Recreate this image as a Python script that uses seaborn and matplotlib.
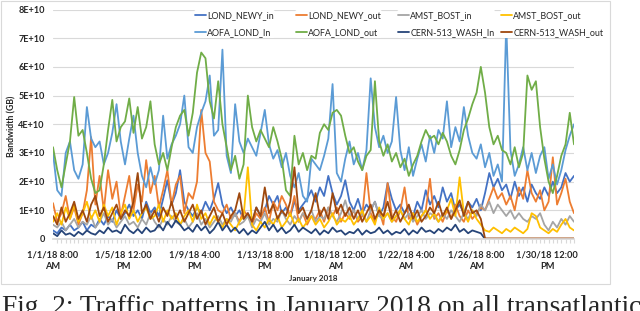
import numpy as np
import pandas as pd
import matplotlib
matplotlib.use("Agg")
import matplotlib.pyplot as plt
import seaborn as sns
from matplotlib.patches import Rectangle

# series values in units of 1E+10, one sample every 6 hours from 1/1/18 8:00 AM
step_hours = 6

lond_newy_in = [
    0.3, 0.2, 0.4, 0.3, 0.5, 0.3, 0.4, 0.6, 0.3, 0.5,
    0.4, 0.7, 0.5, 0.8, 0.6, 1.0, 0.7, 0.9, 1.2, 0.8,
    1.0, 0.7, 1.3, 0.9, 1.1, 0.8, 1.4, 2.05, 1.2, 1.6,
    2.4, 1.3, 1.0, 0.8, 1.1, 0.9, 1.3, 1.0, 1.4, 1.95,
    1.2, 0.9, 1.1, 0.8, 1.0, 0.7, 0.9, 0.6, 1.1, 0.8,
    1.0, 1.5, 1.2, 1.5, 0.9, 1.1, 0.8, 1.3, 1.0, 1.2,
    1.4, 1.7, 1.3, 1.8, 1.5, 2.2, 1.6, 1.2, 1.5, 2.05,
    1.3, 1.0, 1.4, 0.9, 1.2, 1.0, 1.3, 0.8, 1.1, 1.95,
    1.4, 1.0, 1.2, 0.9, 1.1, 0.8, 1.3, 1.0, 1.7, 1.2,
    1.5, 1.1, 1.8, 1.3, 1.6, 1.0, 1.2, 0.9, 1.3, 1.1,
    1.4, 1.0, 1.6, 2.3, 1.8, 2.1, 1.7, 1.9, 1.4, 2.0,
    1.5, 1.8, 1.3, 1.9, 1.6, 1.4, 1.8, 1.5, 2.0, 1.6,
    1.8, 2.3, 2.0, 2.2,
]
lond_newy_out = [
    1.25, 0.6, 0.9, 1.5, 0.7, 1.1, 0.5, 0.9, 1.7, 3.55,
    1.2, 2.2, 1.0, 2.4, 1.4, 2.0, 0.8, 1.5, 2.2, 1.0,
    1.9, 1.3, 2.75, 1.6, 2.2, 1.1, 1.7, 2.4, 1.2, 1.9,
    2.2, 0.9, 1.6, 1.4, 2.0, 4.5, 3.0, 2.7, 1.3, 1.0,
    0.9, 1.2, 0.7, 0.9, 0.6, 1.0, 0.8, 0.5, 0.9, 0.7,
    1.1, 0.6, 1.3, 1.0, 1.5, 1.2, 0.8, 1.5, 0.6, 0.9,
    0.5, 0.8, 0.7, 1.0, 0.6, 1.1, 0.8, 1.1, 0.6, 0.9,
    0.7, 1.0, 0.6, 0.8, 2.3, 0.9, 0.6, 1.0, 0.5, 1.95,
    0.8, 0.6, 1.0, 1.8, 0.7, 0.9, 0.5, 0.8, 1.0, 2.1,
    0.7, 0.9, 0.6, 1.0, 0.7, 1.2, 0.8, 0.6, 1.0, 0.7,
    0.9, 1.1, 1.0, 1.4, 1.8, 1.4, 1.6, 1.2, 1.5, 1.0,
    1.8, 1.4, 2.4, 1.6, 1.3, 1.7, 1.0, 1.3, 2.85, 1.2,
    1.6, 2.1, 1.3, 0.9,
]
amst_bost_in = [
    0.5, 0.4, 0.6, 0.3, 0.5, 0.7, 0.4, 0.6, 0.5, 0.8,
    0.4, 0.6, 0.9, 0.5, 0.7, 0.4, 0.6, 0.8, 0.5, 0.6,
    0.4, 0.7, 0.5, 0.9, 0.6, 0.4, 0.7, 0.5, 0.8, 0.6,
    0.5, 0.7, 0.4, 0.6, 0.9, 0.5, 0.7, 0.4, 0.6, 0.8,
    0.5, 0.7, 0.6, 0.9, 0.5, 0.6, 0.8, 0.4, 0.7, 0.6,
    0.9, 0.5, 0.7, 0.6, 1.0, 0.7, 0.5, 0.8, 0.6, 0.9,
    0.7, 1.0, 0.6, 0.8, 0.7, 1.1, 0.8, 0.6, 0.9, 1.35,
    0.8, 1.0, 0.7, 0.9, 0.6, 1.0, 1.3, 0.8, 0.7, 0.9,
    0.6, 0.8, 1.0, 0.7, 0.9, 0.6, 0.8, 1.0, 0.7, 0.9,
    0.8, 0.6, 0.9, 0.7, 1.0, 0.8, 0.6, 0.9, 0.7, 1.0,
    0.8, 1.2, 1.0, 1.3, 0.9, 1.2, 1.0, 0.8, 1.0, 0.7,
    0.9, 0.7, 0.6, 0.8, 0.7, 0.9, 0.5, 0.3, 0.6, 0.4,
    0.7, 0.5, 0.8, 0.6,
]
amst_bost_out = [
    0.6, 0.9, 0.5, 1.1, 0.7, 1.2, 0.6, 0.9, 1.3, 0.7,
    1.0, 0.6, 1.2, 0.8, 1.1, 0.5, 0.9, 1.2, 0.7, 1.0,
    0.6, 0.9, 1.1, 0.7, 0.8, 1.2, 0.6, 1.0, 0.7, 0.9,
    0.5, 0.8, 1.0, 0.6, 1.2, 0.7, 0.9, 0.5, 0.8, 0.6,
    0.4, 0.7, 0.5, 0.3, 0.6, 0.8, 2.5, 0.5, 0.3, 0.6,
    0.4, 0.7, 0.5, 0.8, 0.4, 0.6, 0.9, 0.5, 0.7, 0.4,
    0.6, 0.8, 0.5, 0.7, 0.4, 0.6, 0.9, 0.5, 0.7, 0.6,
    0.8, 0.5, 0.7, 1.0, 0.6, 0.8, 0.5, 1.1, 0.7, 0.9,
    0.6, 0.8, 1.0, 0.7, 0.5, 0.9, 0.6, 0.8, 1.0, 0.7,
    0.9, 0.6, 0.8, 1.0, 1.4, 0.8, 2.15, 0.9, 0.6, 1.0,
    0.7, 0.5, 0.3, 0.25, 0.4, 0.3, 0.2, 0.35, 0.25, 0.4,
    0.3, 0.2, 0.35, 0.9, 0.8, 0.4, 0.3, 0.2, 0.35, 0.25,
    0.5, 0.7, 0.4, 0.3,
]
aofa_lond_in = [
    3.0, 1.7, 1.5, 3.0, 3.4, 2.4, 2.1, 2.6, 4.6, 3.5,
    3.2, 3.4, 2.6, 3.0, 3.7, 4.7, 3.4, 2.6, 3.5, 4.3,
    3.0, 2.2, 1.8, 2.5, 1.9, 2.4, 4.3, 2.8, 3.3, 3.6,
    4.0, 5.0, 3.2, 3.0, 3.9, 4.4, 4.8, 5.7, 3.6, 3.8,
    6.6, 2.9, 2.3, 4.7, 3.4, 3.0, 3.5, 3.2, 2.9, 3.7,
    4.5, 3.3, 2.8, 3.1, 2.5, 3.0, 2.2, 1.8, 2.3, 1.5,
    1.3, 2.8, 2.6, 2.4, 2.9, 3.5, 5.4, 2.3, 2.0, 2.8,
    3.4, 2.6, 3.0, 2.4, 3.1, 5.6, 3.9, 3.2, 3.6, 3.0,
    3.4, 4.95, 3.1, 2.4, 3.2, 2.2, 2.8, 3.3, 2.7, 3.6,
    3.0, 3.8, 3.5, 4.8, 3.2, 3.9, 3.4, 4.6, 3.6, 3.0,
    2.8, 3.3, 2.5, 3.0, 2.2, 2.6, 2.0, 7.5, 3.1, 2.2,
    2.6, 3.2, 2.4, 3.0, 2.3, 2.9, 3.2, 2.1, 2.6, 1.9,
    2.4, 3.1, 3.6, 4.0,
]
aofa_lond_out = [
    3.2, 2.4, 1.8, 2.6, 3.4, 4.95, 3.6, 3.8, 3.0, 2.1,
    1.6, 1.7, 2.6, 3.8, 4.85, 3.4, 3.9, 4.1, 4.9, 3.7,
    4.6, 3.5, 3.9, 4.8, 3.3, 2.6, 3.0, 2.4, 3.2, 3.9,
    4.3, 4.5, 3.6, 4.4, 5.8, 6.5, 6.3, 4.8, 4.2, 5.5,
    4.0, 3.2, 2.4, 2.9, 2.1, 2.6, 5.0, 3.9, 3.4, 3.8,
    3.5, 3.2, 3.9, 3.4, 2.8, 1.7, 1.5, 3.6, 2.6, 3.0,
    2.4, 2.9, 2.8, 3.7, 4.0, 3.8, 4.4, 4.5, 4.3, 3.6,
    3.0, 3.2, 2.7, 2.4, 2.9, 3.1, 5.5, 3.4, 2.9, 3.3,
    2.7, 3.0, 2.5, 2.8, 2.2, 2.6, 2.9, 3.4, 3.8, 3.5,
    3.6, 3.3, 3.7, 3.4, 2.9, 2.6, 3.1, 3.8, 4.2, 4.7,
    5.1, 6.0, 5.1, 3.9, 3.3, 3.6, 3.1, 3.0, 2.6, 3.2,
    2.5, 3.0, 5.7, 5.2, 5.5, 3.9, 2.8, 2.0, 1.6, 2.2,
    2.9, 3.3, 4.4, 3.3,
]
cern_wash_in = [
    0.2, 0.1, 0.3, 0.15, 0.2, 0.1, 0.25, 0.15, 0.3, 0.2,
    0.15, 0.3, 0.2, 0.4, 0.25, 0.3, 0.2, 0.5, 0.3, 0.2,
    0.35, 0.2, 0.4, 0.25, 0.3, 0.5, 0.3, 0.6, 0.4, 0.65,
    0.5, 0.3, 0.4, 0.25, 0.5, 0.3, 0.45, 0.2, 0.35, 0.6,
    0.3, 0.5, 0.25, 0.4, 0.2, 0.35, 0.15, 0.3, 0.2, 0.4,
    0.6, 0.3, 0.5, 0.25, 0.4, 0.2, 0.3, 0.5, 0.25, 0.4,
    0.3, 0.2, 0.35, 0.15, 0.3, 0.2, 0.4, 0.25, 0.3, 0.15,
    0.25, 0.2, 0.35, 0.15, 0.3, 0.2, 0.25, 0.4, 0.2, 0.3,
    0.15, 0.25, 0.2, 0.35, 0.15, 0.3, 0.2, 0.4, 0.25, 0.3,
    0.2, 0.35, 0.25, 0.4, 0.3, 0.5, 0.25, 0.35, 0.2, 0.3,
    0.25, 0.2, 0.0, 0.0, 0.0, 0.0, 0.0, 0.0, 0.0, 0.0,
    0.0, 0.0, 0.0, 0.0, 0.0, 0.0, 0.0, 0.0, 0.0, 0.0,
    0.0, 0.0, 0.0, 0.0,
]
cern_wash_out = [
    0.8, 0.5, 1.1, 0.6, 0.9, 1.3, 0.7, 1.0, 0.6, 1.2,
    1.5, 0.8, 1.1, 0.6, 0.9, 1.2, 0.7, 1.0, 0.8, 1.3,
    2.3, 0.9, 1.2, 0.7, 1.0, 0.6, 1.1, 0.8, 1.3, 0.7,
    1.0, 0.6, 0.9, 1.2, 0.7, 1.0, 0.5, 0.8, 1.1, 0.6,
    0.9, 0.5, 0.8, 1.0, 1.6, 0.7, 0.9, 0.6, 1.1, 0.8,
    1.8, 0.9, 1.2, 0.7, 1.0, 0.8, 1.3, 2.5, 0.9, 1.1,
    0.7, 1.0, 1.6, 0.8, 1.1, 0.7, 1.6, 0.9, 1.2, 0.8,
    1.1, 0.7, 1.0, 0.6, 0.9, 1.2, 0.7, 1.0, 0.8, 1.3,
    0.7, 1.0, 0.6, 0.9, 1.2, 0.7, 1.0, 0.6, 0.8, 1.1,
    0.9, 1.3, 0.8, 1.1, 0.7, 1.0, 1.35, 0.8, 1.3, 0.9,
    1.0, 0.7, 0.02, 0.02, 0.02, 0.02, 0.02, 0.02, 0.02, 0.02,
    0.02, 0.02, 0.02, 0.02, 0.02, 0.02, 0.02, 0.02, 0.02, 0.02,
    0.02, 0.02, 0.02, 0.02,
]

series_names = ["LOND_NEWY_in", "LOND_NEWY_out", "AMST_BOST_in", "AMST_BOST_out",
                "AOFA_LOND_In", "AOFA_LOND_out", "CERN-513_WASH_In", "CERN-513_WASH_out"]
series_values = [lond_newy_in, lond_newy_out, amst_bost_in, amst_bost_out,
                 aofa_lond_in, aofa_lond_out, cern_wash_in, cern_wash_out]
colors = ["#4472C4", "#ED7D31", "#A5A5A5", "#FFC000",
          "#5B9BD5", "#70AD47", "#264478", "#9E480E"]

tick_hours = [0, 100, 200, 300, 400, 500, 600, 700]
tick_labels = ["1/1/18 8:00\nAM", "1/5/18 12:00\nPM", "1/9/18 4:00\nPM", "1/13/18 8:00\nPM",
               "1/18/18 12:00\nAM", "1/22/18 4:00\nAM", "1/26/18 8:00\nAM", "1/30/18 12:00\nPM"]
y_ticks = [0, 1, 2, 3, 4, 5, 6, 7, 8]
y_labels = ["0"] + [f"{v}E+10" for v in y_ticks[1:]]

rows = []
for name, vals in zip(series_names, series_values):
    for i, v in enumerate(vals):
        rows.append((i * step_hours, v, name))
df = pd.DataFrame(rows, columns=["hour", "bw", "link"])

sns.set_theme(style="white")
plt.rcParams["font.family"] = ["Lato", "DejaVu Sans"]

fig = plt.figure(figsize=(6.4, 3.11), dpi=100)
W, H = 640, 311

# chart border
fig.patches.append(Rectangle((1 / W, 1 - 284 / H), 609 / W, 283 / H, transform=fig.transFigure,
                             facecolor="none", edgecolor="#D9D9D9", lw=0.8, zorder=0))

ax = fig.add_axes([53 / W, 1 - 239 / H, 521 / W, 229.5 / H])
ax.set_facecolor("none")

sns.lineplot(data=df, x="hour", y="bw", hue="link", hue_order=series_names,
             palette=colors, lw=1.3, estimator=None, ax=ax)

ax.set_xlim(0, 738)
ax.set_ylim(0, 8)
ax.set_yticks(y_ticks)
ax.set_yticklabels(y_labels, fontsize=6.6, fontweight="bold")
ax.yaxis.grid(True, color="#D9D9D9", lw=0.8)
ax.set_axisbelow(True)
ax.set_xticks(tick_hours)
ax.set_xticklabels(tick_labels, fontsize=6.7, fontweight="bold", linespacing=1.45)
ax.set_xticks(np.arange(0, 739, step_hours), minor=True)
ax.tick_params(axis="x", which="major", length=0, pad=8)
ax.tick_params(axis="x", which="minor", length=3, color="#D9D9D9", width=0.8, bottom=True)
ax.tick_params(axis="y", length=0, pad=6)
for s in ["top", "right", "left"]:
    ax.spines[s].set_visible(False)
ax.spines["bottom"].set_color("#D9D9D9")
ax.set_xlabel("")
ax.set_ylabel("")

fig.text(12 / W, 1 - 126 / H, "Bandwidth (GB)", rotation=90, ha="center", va="center",
         fontsize=6.3, fontweight="bold")
fig.text(313 / W, 1 - 278 / H, "January 2018", ha="center", va="center",
         fontsize=5.8, fontweight="bold")

# legend: 4 columns of 2 rows
handles, labels = ax.get_legend_handles_labels()
ax.get_legend().remove()
col_x = [194, 295, 397, 500]
for c in range(4):
    hs = [handles[c], handles[c + 4]]
    ls = [labels[c], labels[c + 4]]
    fig.legend(hs, ls, loc="upper left", bbox_to_anchor=(col_x[c] / W, 1 - 10 / H),
               fontsize=6.4, frameon=True, facecolor="white", edgecolor="none",
               framealpha=1, borderpad=0.1, handlelength=1.2, handletextpad=0.2,
               labelspacing=0.95, borderaxespad=0)

fig.text(2 / W, 1 - 295 / H, "Fig. 2: Traffic patterns in January 2018 on all transatlantic",
         ha="left", va="top", fontsize=19.8, family=["Liberation Serif", "DejaVu Serif"])

fig.savefig("out.png", dpi=100)
